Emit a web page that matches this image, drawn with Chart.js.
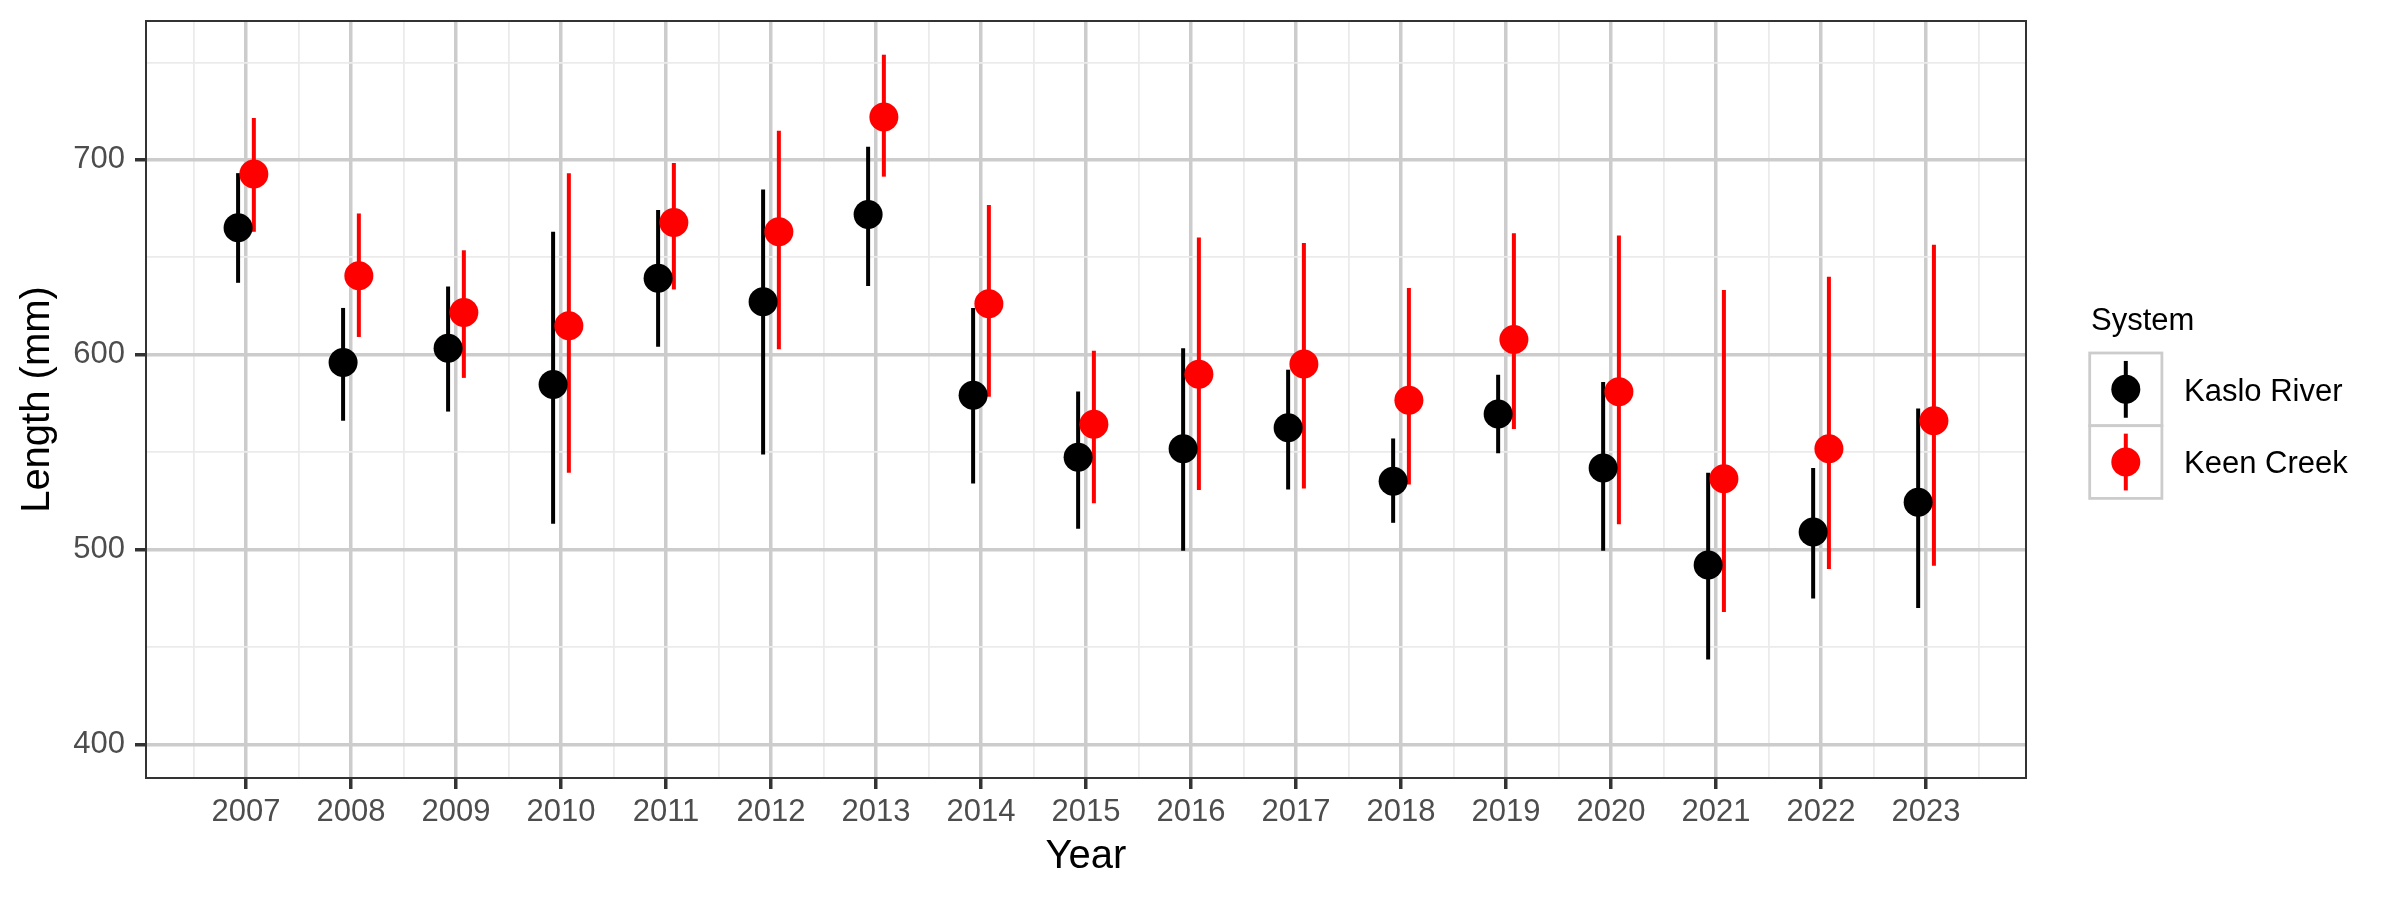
<!DOCTYPE html>
<html>
<head>
<meta charset="utf-8">
<script src="https://cdn.jsdelivr.net/npm/chart.js@4.4.1/dist/chart.umd.min.js"></script>
<style>
  html, body { margin: 0; padding: 0; background: #ffffff; }
  #wrap { width: 2400px; height: 900px; }
</style>
</head>
<body>
<div id="wrap"><canvas id="c" width="2400" height="900"></canvas></div>
<script>
// ---- data ----
const years = [2007, 2008, 2009, 2010, 2011, 2012, 2013, 2014, 2015, 2016, 2017, 2018, 2019, 2020, 2021, 2022, 2023];
const kasloMean = [665.2, 596.0, 603.3, 584.7, 639.2, 627.2, 672.0, 579.2, 547.3, 551.7, 562.5, 535.0, 569.5, 541.8, 492.0, 509.0, 524.2];
const kasloLow  = [636.9, 566.1, 570.8, 513.2, 604.1, 548.8, 635.3, 533.9, 510.6, 499.3, 530.8, 513.7, 549.4, 499.3, 443.5, 474.9, 470.0];
const kasloHigh = [693.2, 624.0, 635.0, 663.1, 674.3, 684.8, 706.8, 624.0, 581.1, 603.3, 592.3, 557.0, 589.7, 586.0, 539.4, 541.8, 572.4];
const keenMean  = [692.7, 640.5, 621.7, 614.9, 667.8, 663.1, 722.0, 626.1, 564.3, 590.0, 595.2, 576.6, 607.8, 581.0, 536.3, 551.7, 566.1];
const keenLow   = [663.1, 609.1, 588.1, 539.4, 633.5, 602.8, 691.4, 578.4, 523.7, 530.5, 531.3, 533.4, 561.9, 513.0, 467.9, 490.0, 491.7];
const keenHigh  = [721.5, 672.5, 653.6, 693.2, 698.4, 714.9, 754.0, 676.9, 602.0, 660.2, 657.3, 634.2, 662.3, 661.2, 633.2, 640.0, 656.5];
const seriesNames = ['Kaslo River', 'Keen Creek'];
const yTickLabels = [400, 500, 600, 700];
const legendTitle = 'System';
const xTitle = 'Year';
const yTitle = 'Length (mm)';

// ---- styling ----
const FONT = '"Liberation Sans", Arial, Helvetica, sans-serif';
const DODGE = 0.075;
const MAJOR = '#cccccc', MINOR = '#ebebeb';

function build(mean, low, high, off) {
  return years.map((yr, i) => ({ x: yr + off, y: mean[i], low: low[i], high: high[i] }));
}

const isMajorX = v => Math.abs(v - Math.round(v)) < 1e-6;
const isMajorY = v => yTickLabels.includes(Math.round(v)) && Math.abs(v - Math.round(v)) < 1e-6;

const errorBars = {
  id: 'errorBars',
  beforeDatasetsDraw(chart) {
    const { ctx, chartArea: a, scales: { x, y } } = chart;
    ctx.save();
    ctx.beginPath(); ctx.rect(a.left, a.top, a.right - a.left, a.bottom - a.top); ctx.clip();
    ctx.lineWidth = 4; ctx.lineCap = 'butt';
    chart.data.datasets.forEach(ds => {
      ctx.strokeStyle = ds.backgroundColor;
      ds.data.forEach(p => {
        const px = x.getPixelForValue(p.x);
        ctx.beginPath();
        ctx.moveTo(px, y.getPixelForValue(p.low));
        ctx.lineTo(px, y.getPixelForValue(p.high));
        ctx.stroke();
      });
    });
    ctx.restore();
  }
};

const panelBorder = {
  id: 'panelBorder',
  afterDatasetsDraw(chart) {
    const { ctx, chartArea: a } = chart;
    ctx.save();
    ctx.strokeStyle = '#333333'; ctx.lineWidth = 2;
    ctx.strokeRect(a.left, a.top, a.right - a.left, a.bottom - a.top);
    ctx.restore();
  }
};

const ggLegend = {
  id: 'ggLegend',
  afterDraw(chart) {
    const { ctx } = chart;
    const colors = chart.data.datasets.slice().sort((p, q) => p.legendIndex - q.legendIndex).map(d => d.backgroundColor);
    ctx.save();
    ctx.fillStyle = '#000000';
    ctx.font = '31px ' + FONT;
    ctx.textAlign = 'left'; ctx.textBaseline = 'alphabetic';
    ctx.fillText(legendTitle, 2091, 330);
    const keyX = 2089.7, keyW = 72.2, keyH = 72.7, top0 = 353;
    seriesNames.forEach((name, i) => {
      const ky = top0 + i * keyH;
      ctx.fillStyle = '#ffffff';
      ctx.fillRect(keyX, ky, keyW, keyH);
      ctx.strokeStyle = '#cccccc'; ctx.lineWidth = 2.8;
      ctx.strokeRect(keyX, ky, keyW, keyH);
      const cx = keyX + keyW / 2, cy = ky + keyH / 2;
      ctx.strokeStyle = colors[i]; ctx.lineWidth = 4;
      ctx.beginPath(); ctx.moveTo(cx, cy - 28.4); ctx.lineTo(cx, cy + 28.4); ctx.stroke();
      ctx.fillStyle = colors[i];
      ctx.beginPath(); ctx.arc(cx, cy, 14.5, 0, Math.PI * 2); ctx.fill();
      ctx.fillStyle = '#000000';
      ctx.fillText(name, 2184, ky + 47.7);
    });
    ctx.restore();
  }
};

new Chart(document.getElementById('c'), {
  type: 'scatter',
  data: {
    datasets: [
      { label: seriesNames[0], legendIndex: 0, order: 1, data: build(kasloMean, kasloLow, kasloHigh, -DODGE),
        backgroundColor: '#000000', borderColor: '#000000', pointRadius: 14.5, pointHoverRadius: 14.5, pointBorderWidth: 0 },
      { label: seriesNames[1], legendIndex: 1, order: 0, data: build(keenMean, keenLow, keenHigh, DODGE),
        backgroundColor: '#ff0000', borderColor: '#ff0000', pointRadius: 14.5, pointHoverRadius: 14.5, pointBorderWidth: 0 }
    ]
  },
  options: {
    responsive: false,
    animation: false,
    devicePixelRatio: 1,
    events: [],
    layout: { padding: { left: 0, right: 374, top: 21, bottom: 0 } },
    plugins: { legend: { display: false }, tooltip: { enabled: false } },
    scales: {
      x: {
        type: 'linear',
        min: 2006.048, max: 2023.952,
        afterBuildTicks(scale) {
          const t = [];
          for (let v = years[0] - 0.5; v <= years[years.length - 1] + 0.5 + 1e-9; v += 0.5) t.push({ value: v });
          scale.ticks = t;
        },
        afterFit(scale) { scale.height = 122; scale.paddingLeft = 0; scale.paddingRight = 0; },
        ticks: {
          autoSkip: false, maxRotation: 0, minRotation: 0, padding: 5,
          color: '#4d4d4d', font: { family: FONT, size: 31 },
          callback: v => (isMajorX(v) && years.includes(Math.round(v))) ? String(Math.round(v)) : ''
        },
        grid: {
          color: c => (c.tick && isMajorX(c.tick.value)) ? MAJOR : MINOR,
          lineWidth: c => (c.tick && isMajorX(c.tick.value)) ? 3.5 : 1.8,
          tickColor: c => (c.tick && isMajorX(c.tick.value)) ? '#333333' : 'rgba(0,0,0,0)',
          tickWidth: 3.5, tickLength: 11, drawTicks: true
        },
        border: { display: false },
        title: { display: true, text: xTitle, color: '#000000', font: { family: FONT, size: 40 }, padding: { top: 0, bottom: 19 } }
      },
      y: {
        type: 'linear',
        min: 382.7, max: 771.3,
        afterBuildTicks(scale) {
          const t = [];
          for (let v = 400; v <= 750; v += 50) t.push({ value: v });
          scale.ticks = t;
        },
        afterFit(scale) { scale.width = 146; scale.paddingTop = 0; scale.paddingBottom = 0; },
        ticks: {
          autoSkip: false, padding: 10,
          color: '#4d4d4d', font: { family: FONT, size: 31 },
          callback: v => isMajorY(v) ? String(Math.round(v)) : ''
        },
        grid: {
          color: c => (c.tick && isMajorY(c.tick.value)) ? MAJOR : MINOR,
          lineWidth: c => (c.tick && isMajorY(c.tick.value)) ? 3.5 : 1.8,
          tickColor: c => (c.tick && isMajorY(c.tick.value)) ? '#333333' : 'rgba(0,0,0,0)',
          tickWidth: 3.5, tickLength: 11, drawTicks: true
        },
        border: { display: false },
        title: { display: true, text: yTitle, color: '#000000', font: { family: FONT, size: 40 }, padding: { top: 14, bottom: 0 } }
      }
    }
  },
  plugins: [errorBars, panelBorder, ggLegend]
});
</script>
</body>
</html>
